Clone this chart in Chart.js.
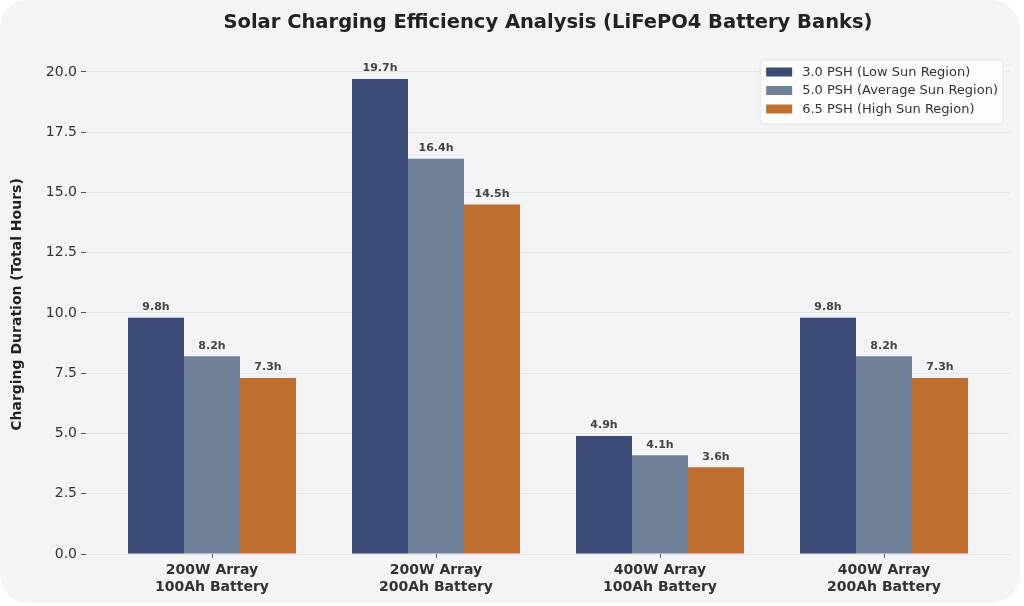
<!DOCTYPE html>
<html>
<head>
<meta charset="utf-8">
<script src="https://cdn.jsdelivr.net/npm/chart.js@4.4.1/dist/chart.umd.min.js"></script>
<style>
  html, body { margin: 0; padding: 0; background: #ffffff; }
  #wrap { position: relative; width: 1024px; height: 606px; }
  #panel {
    position: absolute; left: 0; top: 0; width: 1020px; height: 603px;
    background: #f3f4f6; border-radius: 28px;
  }
  #chart { position: absolute; left: 0; top: 0; }
</style>
</head>
<body>
<div id="wrap">
  <div id="panel"></div>
  <canvas id="chart" width="1024" height="606"></canvas>
</div>
<script>
const categories = [
  ["200W Array", "100Ah Battery"],
  ["200W Array", "200Ah Battery"],
  ["400W Array", "100Ah Battery"],
  ["400W Array", "200Ah Battery"]
];
const seriesNames = [
  "3.0 PSH (Low Sun Region)",
  "5.0 PSH (Average Sun Region)",
  "6.5 PSH (High Sun Region)"
];
const lowSun  = [9.8, 19.7, 4.9, 9.8];
const avgSun  = [8.2, 16.4, 4.1, 8.2];
const highSun = [7.3, 14.5, 3.6, 7.3];
const yTicks  = [0, 2.5, 5, 7.5, 10, 12.5, 15, 17.5, 20];

const COLORS = ["#3b4a77", "#718099", "#c06d30"];
const FONT = "'DejaVu Sans', sans-serif";

// bars sit on a linear x axis so the side margins match the original layout
const toPoints = (vals) => vals.map((v, i) => ({ x: i, y: v }));

// value labels above each bar
const barLabels = {
  id: "barLabels",
  afterDatasetsDraw(chart) {
    const ctx = chart.ctx;
    ctx.save();
    ctx.font = "bold 11px " + FONT;
    ctx.fillStyle = "#444444";
    ctx.textAlign = "center";
    ctx.textBaseline = "bottom";
    chart.data.datasets.forEach((ds, di) => {
      chart.getDatasetMeta(di).data.forEach((bar, i) => {
        ctx.fillText(ds.data[i].y.toFixed(1) + "h", bar.x, bar.y - 5);
      });
    });
    ctx.restore();
  }
};

// legend box in the top-right corner of the plot
const innerLegend = {
  id: "innerLegend",
  afterDraw(chart) {
    const ctx = chart.ctx;
    const area = chart.chartArea;
    ctx.save();
    ctx.font = "13px " + FONT;
    const maxW = Math.max(...chart.data.datasets.map(d => ctx.measureText(d.label).width));
    const w = maxW + 47, h = 64;
    const x = area.right - 7 - w, y = area.top + 5;
    ctx.beginPath();
    ctx.roundRect(x, y, w, h, 3);
    ctx.fillStyle = "rgba(255,255,255,0.85)";
    ctx.fill();
    ctx.strokeStyle = "#e2e2e2";
    ctx.lineWidth = 1;
    ctx.stroke();
    ctx.textBaseline = "middle";
    chart.data.datasets.forEach((ds, i) => {
      const cy = y + 12 + i * 18.5;
      ctx.fillStyle = ds.backgroundColor;
      ctx.fillRect(x + 6, cy - 4.5, 26, 9);
      ctx.fillStyle = "#333333";
      ctx.fillText(ds.label, x + 42, cy + 0.5);
    });
    ctx.restore();
  }
};

new Chart(document.getElementById("chart"), {
  type: "bar",
  data: {
    datasets: [
      { label: seriesNames[0], data: toPoints(lowSun),  backgroundColor: COLORS[0] },
      { label: seriesNames[1], data: toPoints(avgSun),  backgroundColor: COLORS[1] },
      { label: seriesNames[2], data: toPoints(highSun), backgroundColor: COLORS[2] }
    ]
  },
  options: {
    responsive: false,
    animation: false,
    datasets: { bar: { barPercentage: 1, categoryPercentage: 0.75 } },
    layout: { padding: { left: 0, right: 14, top: 0, bottom: 0 } },
    plugins: {
      legend: { display: false },
      tooltip: { enabled: false },
      title: {
        display: true,
        fullSize: false,
        text: "Solar Charging Efficiency Analysis (LiFePO4 Battery Banks)",
        color: "#222222",
        font: { family: FONT, size: 19.5, weight: "bold" },
        padding: { top: 11, bottom: 20.6 }
      }
    },
    scales: {
      x: {
        type: "linear",
        min: -0.5625,
        max: 3.5625,
        offset: false,
        afterBuildTicks: (s) => { s.ticks = categories.map((_, i) => ({ value: i })); },
        afterFit: (s) => { s.height = 52; },
        border: { display: false },
        grid: {
          offset: false,
          drawOnChartArea: false,
          drawTicks: true,
          tickLength: 4,
          tickColor: "#666666",
          tickWidth: 1
        },
        ticks: {
          autoSkip: false,
          maxRotation: 0,
          padding: 4,
          color: "#333333",
          font: { family: FONT, size: 14, weight: "bold", lineHeight: 1.2 },
          callback: (v) => categories[v]
        }
      },
      y: {
        min: 0,
        max: 20.7,
        afterBuildTicks: (s) => { s.ticks = yTicks.map(v => ({ value: v })); },
        afterFit: (s) => { s.width = 86; },
        border: { display: false },
        grid: {
          color: "rgba(0,0,0,0.07)",
          lineWidth: 0.8,
          borderDash: [5, 3],
          tickColor: "#555555",
          tickBorderDash: [],
          tickLength: 5,
          tickWidth: 1
        },
        ticks: {
          padding: 4,
          color: "#333333",
          font: { family: FONT, size: 14 },
          callback: (v) => v.toFixed(1)
        },
        title: {
          display: true,
          text: "Charging Duration (Total Hours)",
          color: "#222222",
          font: { family: FONT, size: 14, weight: "bold" },
          padding: { top: 9, bottom: 0 }
        }
      }
    }
  },
  plugins: [barLabels, innerLegend]
});
</script>
</body>
</html>
